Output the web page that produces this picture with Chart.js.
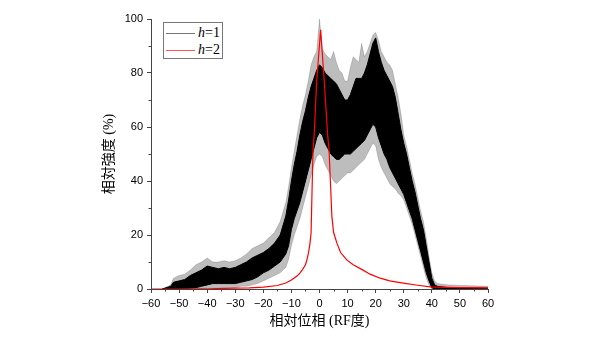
<!DOCTYPE html>
<html>
<head>
<meta charset="utf-8">
<script src="https://cdn.jsdelivr.net/npm/chart.js@4.4.0/dist/chart.umd.min.js"></script>
<style>
  body { margin: 0; background: #fff; }
  #wrap { position: relative; width: 600px; height: 337px; }
  #legend { position: absolute; left: 163px; top: 22px; width: 58px; height: 35px; border: 1px solid #777; background: #fff;
            font-family: "Liberation Serif", serif; font-size: 14px; color: #000; }
  .row { position: absolute; left: 0; height: 16px; width: 58px; }
  .row .ln { position: absolute; left: 2px; top: 8px; width: 29px; border-top: 1px solid #777; }
  .row .tx { position: absolute; left: 34px; top: 0; line-height: 16px; white-space: nowrap; }
</style>
</head>
<body>
<div id="wrap">
  <canvas id="chart" width="600" height="337"></canvas>
  <div id="legend">
    <div class="row" style="top:2px"><div class="ln"></div><div class="tx"><i>h</i>=1</div></div>
    <div class="row" style="top:19px"><div class="ln" style="border-color:#ff5555"></div><div class="tx"><i>h</i>=2</div></div>
  </div>
</div>
<script>
// h=1 : noisy band. dense part (upper / lower) and the thin spikes round it (spikeUp / spikeLow)
const blackX = [-56, -53, -52, -50, -48, -46, -44, -42, -40, -38, -36, -34, -32, -30, -28, -26, -24, -22, -20, -18, -16, -14,
  -12, -11, -10, -9, -8, -7, -6, -5, -4, -3, -2, -1, 0, 1, 2, 3, 4, 5, 6, 7, 8, 9, 10, 11, 12, 13, 14, 15, 16, 17, 18, 19, 20,
  21, 22, 23, 24, 25, 26, 27, 28, 29, 30, 31, 32, 33, 34, 35, 36, 37, 38, 39, 40, 41, 42, 46, 60];
const blackUpper = [0, 1, 2.5, 3, 3.5, 5, 6, 7, 8.5, 8, 7.5, 8, 7.5, 8, 9, 10, 11.5, 12.5, 13.5, 15, 17, 20,
  27, 33, 40, 46, 51, 57, 62, 66, 71, 75, 78, 81, 83, 82, 80, 79, 78, 77, 76, 74, 72, 70, 70, 72, 75, 78, 78, 78, 80, 83, 87, 91, 93,
  88, 84, 81, 79, 77, 75, 71, 65, 59, 54, 50, 45, 40, 36, 31, 26, 22, 16, 10, 4, 1.5, 1, 0.5, 0.3];
const blackLower = [0, 0, 0, 0, 0.2, 0.3, 0.5, 1, 1.5, 2, 2, 2, 2, 2, 2.5, 3, 3.5, 4.5, 6, 7, 8.5, 10,
  13, 16, 22, 26, 29, 32, 36, 40, 44, 48, 52, 56, 58, 57, 54, 52, 50, 49, 48, 48, 49, 50, 50, 50, 51, 52, 53, 54, 55, 57, 59, 61, 60,
  56, 53, 50, 48, 45, 43, 41, 39, 37, 35, 32, 29, 26, 22, 18, 14, 10, 6, 3, 0.5, 0, 0, 0, 0];
const spikeUp = [0, 1.5, 4, 5, 5.5, 7, 9, 10, 11.5, 10, 10, 10.5, 10, 10.5, 11.5, 13, 15, 16, 17, 19, 21, 25,
  32, 38, 45, 51, 57, 63, 68, 72, 77, 83, 86, 88, 100, 89, 87, 86, 85, 88, 84, 81, 80, 77, 77, 82, 86, 85, 84, 91, 86, 88, 91, 94, 95,
  92, 88, 86, 84, 83, 81, 76, 71, 65, 57, 53, 48, 43, 39, 34, 29, 25, 19, 12, 6, 3, 2, 1.5, 1];
const spikeLow = [0, 0, 0, 0, 0, 0, 0, 0, 0.5, 0.5, 0.5, 0.5, 0.5, 0.5, 1, 1, 1.5, 2, 3, 4, 5, 6,
  8, 11, 16, 20, 23, 26, 30, 34, 38, 42, 46, 49, 50, 49, 46, 44, 42, 40, 39, 40, 41, 42, 43, 43, 44, 45, 46, 47, 48, 50, 52, 54, 53,
  48, 45, 43, 41, 39, 38, 37, 35.5, 34.5, 33, 30, 27, 24, 20, 16, 12, 8, 4, 1.5, 0, 0, 0, 0, 0];

// h=2 : sharp peak near 0
const redX = [-60, -50, -40, -30, -25, -20, -15, -12, -10, -8, -7, -6, -5, -4.5, -4, -3.5, -3, -2.6, -2.3, -1.9, -1, 0.4,
  1.7, 2.9, 3.4, 4.4, 5, 6.2, 7.5, 9.8, 12, 15.5, 18, 21.6, 25, 29.8, 35, 39.4, 45, 50, 60];
const redY = [0, 0, 0.1, 0.3, 0.4, 0.7, 1.3, 2.2, 3.3, 4.8, 5.9, 7.3, 9, 10.7, 13, 16, 20.7, 39, 51.5, 57, 77, 96,
  77, 57, 51.5, 27, 21, 17, 13.5, 10.7, 9, 7, 5.5, 4, 3, 2.2, 1.4, 0.8, 0.6, 0.5, 0.4];

const xMinor = [-55, -45, -35, -25, -15, -5, 5, 15, 25, 35, 45, 55];
const yMinor = [10, 30, 50, 70, 90];

function pts(xs, ys) {
  return xs.map(function (v, i) { return { x: v, y: ys[i] }; });
}
function fmt(v) {
  return v < 0 ? "\u2212" + Math.abs(v) : String(v);
}

const axisColor = "#444";
const tickFont = { family: "'Liberation Sans', Arial, sans-serif", size: 11 };
const titleFont = { family: "'Liberation Serif', 'Noto Sans CJK JP', serif", size: 14 };

// short minor ticks, Chart.js has none of its own
const minorTicks = {
  id: "minorTicks",
  afterDraw(chart) {
    const ctx = chart.ctx, x = chart.scales.x, y = chart.scales.y;
    ctx.save();
    ctx.strokeStyle = axisColor;
    ctx.lineWidth = 1;
    ctx.beginPath();
    xMinor.forEach(function (v) {
      const px = Math.round(x.getPixelForValue(v)) + 0.5;
      ctx.moveTo(px, y.bottom);
      ctx.lineTo(px, y.bottom + 2.5);
    });
    yMinor.forEach(function (v) {
      const py = Math.round(y.getPixelForValue(v)) + 0.5;
      ctx.moveTo(x.left, py);
      ctx.lineTo(x.left - 2.5, py);
    });
    ctx.stroke();
    ctx.restore();
  }
};

new Chart(document.getElementById("chart").getContext("2d"), {
  type: "line",
  data: {
    datasets: [
      {
        label: "h=2",
        data: pts(redX, redY),
        borderColor: "#ff0000",
        borderWidth: 1.2,
        pointRadius: 0,
        tension: 0,
        fill: false,
        order: 0
      },
      {
        label: "h=1",
        data: pts(blackX, blackUpper),
        borderColor: "#000",
        backgroundColor: "#000",
        borderWidth: 1,
        pointRadius: 0,
        tension: 0,
        fill: "+1",
        order: 1
      },
      {
        label: "h=1 low",
        data: pts(blackX, blackLower),
        borderColor: "#000",
        borderWidth: 1,
        pointRadius: 0,
        tension: 0,
        fill: false,
        order: 1
      },
      {
        label: "h=1 spikes",
        data: pts(blackX, spikeUp),
        borderColor: "rgba(0,0,0,0.2)",
        backgroundColor: "rgba(0,0,0,0.26)",
        borderWidth: 0.8,
        pointRadius: 0,
        tension: 0,
        fill: "+1",
        order: 2
      },
      {
        label: "h=1 spikes low",
        data: pts(blackX, spikeLow),
        borderColor: "rgba(0,0,0,0.2)",
        borderWidth: 0.8,
        pointRadius: 0,
        tension: 0,
        fill: false,
        order: 2
      }
    ]
  },
  options: {
    responsive: false,
    animation: false,
    layout: { padding: { left: 0, right: 112, top: 19, bottom: 0 } },
    plugins: { legend: { display: false }, tooltip: { enabled: false } },
    scales: {
      x: {
        type: "linear",
        min: -60,
        max: 60,
        ticks: { stepSize: 10, autoSkip: false, maxRotation: 0, padding: 4, color: "#000", font: tickFont, callback: fmt },
        grid: { drawOnChartArea: false, tickLength: 4, tickColor: axisColor },
        border: { color: axisColor, width: 1 },
        title: { display: true, text: "相対位相 (RF度)", color: "#000", font: titleFont, padding: { top: 0, bottom: 7 } },
        afterFit: function (s) { s.height = 48; }
      },
      y: {
        min: 0,
        max: 100,
        ticks: { stepSize: 20, padding: 4, color: "#000", font: tickFont },
        grid: { drawOnChartArea: false, tickLength: 4, tickColor: axisColor },
        border: { color: axisColor, width: 1 },
        title: { display: true, text: "相対強度 (%)", color: "#000", font: titleFont, padding: { top: 101, bottom: 0 } },
        afterFit: function (s) { s.width = 151; }
      }
    }
  },
  plugins: [minorTicks]
});
</script>
</body>
</html>
